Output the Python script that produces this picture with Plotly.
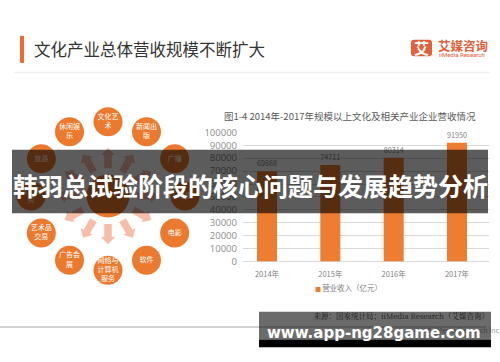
import math
import plotly.graph_objects as go

# ---------------- data ----------------
years = ["2014年", "2015年", "2016年", "2017年"]
revenue = [69888, 74711, 80314, 91950]
y_ticks = [0, 10000, 20000, 30000, 40000, 50000, 60000, 70000, 80000, 90000, 100000]
series_name = "营业收入（亿元）"
chart_title = "图1-4 2014年-2017年规模以上文化及相关产业企业营收情况"
page_title = "文化产业总体营收规模不断扩大"
ring_labels = ["文化艺<br>术", "新闻出<br>版", "广播", "电视", "电影", "软件",
               "网络与<br>计算机<br>服务", "广告会<br>展", "艺术品<br>交易", "设计服<br>务",
               "旅游", "休闲娱<br>乐"]
banner_text = "韩羽总试验阶段的核心问题与发展趋势分析"
watermark_text = "www.app-ng28game.com"
source_text = "来源：国家统计局；iiMedia Research（艾媒咨询）"
copyright_text = "©2018 iiMedia Research Inc"
logo_cn = "艾媒咨询"
logo_en = "iiMedia Research"

W, H = 500, 362
ORANGE = "#ED7D31"
NODE = "#EC7A2E"
ARROW = "#F6BEA8"
CJK = "Noto Sans CJK SC"

fig = go.Figure()

# ---------------- bar chart ----------------
fig.add_trace(go.Bar(
    x=years, y=revenue, name=series_name, width=0.316,
    marker=dict(color=ORANGE, line=dict(width=0)),
    text=[str(v) for v in revenue], textposition="outside",
    textfont=dict(size=7.5, color="#7f7f7f", family=CJK),
    cliponaxis=False, showlegend=False, xaxis="x", yaxis="y",
))

# ---------------- ring diagram (pixel-space axes x2/y2) ----------------
cx, cy, R = 108, 196, 77
n = len(ring_labels)
angles = [2 * math.pi * i / n for i in range(n)]
nx = [cx + R * math.sin(a) for a in angles]
ny = [cy - R * math.cos(a) for a in angles]

fig.add_trace(go.Scatter(
    x=[cx], y=[cy], mode="markers", xaxis="x2", yaxis="y2",
    marker=dict(size=43, color=NODE, line=dict(width=0)),
    showlegend=False, hoverinfo="skip",
))
fig.add_trace(go.Scatter(
    x=nx, y=ny, mode="markers+text", xaxis="x2", yaxis="y2",
    marker=dict(size=29, color=NODE, line=dict(width=0)),
    text=ring_labels, textposition="middle center",
    textfont=dict(size=7, color="white", family=CJK),
    showlegend=False, hoverinfo="skip", cliponaxis=False,
))

shapes = []
# arrows from centre to nodes
r0, r1, stem, headw, headl = 29, 50, 7.5, 14, 7.5
for a in angles:
    s, c = math.sin(a), math.cos(a)
    local = [(r0, -stem / 2), (r1 - headl, -stem / 2), (r1 - headl, -headw / 2), (r1, 0),
             (r1 - headl, headw / 2), (r1 - headl, stem / 2), (r0, stem / 2)]
    pts = [(cx + u * s + v * c, cy - u * c + v * s) for u, v in local]
    path = "M " + " L ".join(f"{px:.2f},{py:.2f}" for px, py in pts) + " Z"
    shapes.append(dict(type="path", path=path, xref="x2", yref="y2",
                       fillcolor=ARROW, line=dict(width=0), layer="below"))

# legend (custom)
fig.add_trace(go.Scatter(
    x=[318], y=[293], mode="markers+text", xaxis="x2", yaxis="y2",
    marker=dict(size=5, symbol="square", color=ORANGE),
    text=[series_name], textposition="middle right",
    textfont=dict(size=7.5, color="#7f7f7f", family=CJK),
    showlegend=False, hoverinfo="skip", cliponaxis=False,
))
# source + copyright (under the watermark box)
fig.add_trace(go.Scatter(
    x=[489], y=[322], mode="text", xaxis="x2", yaxis="y2",
    text=[source_text], textposition="middle left",
    textfont=dict(size=7.5, color="#404040", family="Noto Serif CJK SC, " + CJK),
    showlegend=False, hoverinfo="skip", cliponaxis=False,
))
fig.add_trace(go.Scatter(
    x=[499], y=[336], mode="text", xaxis="x2", yaxis="y2",
    text=[copyright_text], textposition="middle left",
    textfont=dict(size=7, color="#9a9a9a", family=CJK),
    showlegend=False, hoverinfo="skip", cliponaxis=False,
))

# header decorations
shapes.append(dict(type="line", xref="x2", yref="y2", x0=14, x1=490, y0=68, y1=68,
                   line=dict(color="#f0f0f0", width=1.5), layer="above"))
shapes.append(dict(type="rect", xref="x2", yref="y2", x0=20, x1=24, y0=30, y1=58,
                   fillcolor="#EE6A34", line=dict(width=0), layer="above"))
# logo rounded square
lx0, lx1, ly0, ly1, rr = 411, 432, 34, 51, 3
logo_path = (f"M {lx0+rr},{ly0} L {lx1-rr},{ly0} Q {lx1},{ly0} {lx1},{ly0+rr} "
             f"L {lx1},{ly1-rr} Q {lx1},{ly1} {lx1-rr},{ly1} L {lx0+rr},{ly1} "
             f"Q {lx0},{ly1} {lx0},{ly1-rr} L {lx0},{ly0+rr} Q {lx0},{ly0} {lx0+rr},{ly0} Z")
shapes.append(dict(type="path", path=logo_path, xref="x2", yref="y2",
                   fillcolor="#E2603A", line=dict(width=0), layer="above"))
# bottom grey rule
shapes.append(dict(type="line", xref="x2", yref="y2", x0=0, x1=486, y0=332, y1=332,
                   line=dict(color="#c4c4c4", width=1.5), layer="above"))
# big translucent banner
shapes.append(dict(type="rect", xref="x2", yref="y2", x0=12, x1=488, y0=148, y1=214,
                   fillcolor="rgba(0,0,0,0.64)", line=dict(width=0), layer="above"))
# bottom watermark box
shapes.append(dict(type="rect", xref="x2", yref="y2", x0=259, x1=491, y0=316, y1=345,
                   fillcolor="rgba(0,0,0,0.58)", line=dict(width=0), layer="above"))
shapes.append(dict(type="rect", xref="x2", yref="y2", x0=259, x1=491, y0=345, y1=353,
                   fillcolor="black", line=dict(width=0), layer="above"))

annotations = [
    dict(text=page_title, x=32, y=44, xref="x2", yref="y2", xanchor="left", yanchor="middle",
         showarrow=False, font=dict(size=16.5, color="#333333", family=CJK)),
    dict(text="<b>艾</b>", x=421.5, y=42.5, xref="x2", yref="y2", xanchor="center", yanchor="middle",
         showarrow=False, font=dict(size=15, color="white", family=CJK)),
    dict(text="<b>" + logo_cn + "</b>", x=436, y=40, xref="x2", yref="y2", xanchor="left",
         yanchor="middle", showarrow=False, font=dict(size=12.5, color="#E2603A", family=CJK)),
    dict(text=logo_en, x=437, y=49.5, xref="x2", yref="y2", xanchor="left", yanchor="middle",
         showarrow=False, font=dict(size=6, color="#E2603A", family="Roboto")),
    dict(text=chart_title, x=350, y=113, xref="x2", yref="y2", xanchor="center", yanchor="middle",
         showarrow=False, font=dict(size=9.5, color="#595959", family=CJK)),
    dict(text="<b>" + banner_text + "</b>", x=250, y=185, xref="x2", yref="y2",
         xanchor="center", yanchor="middle", showarrow=False,
         font=dict(size=25, color="white", family=CJK)),
    dict(text="<b>" + watermark_text + "</b>", x=374, y=338, xref="x2", yref="y2",
         xanchor="center", yanchor="middle", showarrow=False,
         font=dict(size=15, color="white", family="DejaVu Sans")),
]

fig.update_layout(
    width=W, height=H, autosize=False,
    margin=dict(l=0, r=0, t=0, b=0),
    paper_bgcolor="white", plot_bgcolor="rgba(0,0,0,0)",
    font=dict(family=CJK),
    showlegend=False,
    xaxis=dict(domain=[243 / W, 489 / W], range=[-0.379, 3.505], type="category",
               showgrid=False, showline=False, zeroline=False, ticks="",
               tickfont=dict(size=7.5, color="#7f7f7f", family=CJK),
               ticklabelstandoff=7, anchor="y", fixedrange=True),
    yaxis=dict(domain=[(H - 264) / H, (H - 130) / H], range=[0, 100000],
               tickvals=y_ticks, ticktext=[str(v) for v in y_ticks],
               showgrid=True, gridcolor="#d9d9d9", gridwidth=1,
               zeroline=True, zerolinecolor="#d9d9d9", zerolinewidth=1,
               showline=False, ticks="", ticklabelstandoff=5,
               tickfont=dict(size=9.5, color="#8c8c8c", family="Open Sans"),
               anchor="x", fixedrange=True),
    xaxis2=dict(domain=[0, 1], range=[0, W], visible=False, anchor="y2", fixedrange=True),
    yaxis2=dict(domain=[0, 1], range=[H, 0], visible=False, anchor="x2", fixedrange=True),
    shapes=shapes,
    annotations=annotations,
)

fig.write_html("out.html", config={"displayModeBar": False, "staticPlot": True},
               post_script="document.body.style.margin='0px';")
